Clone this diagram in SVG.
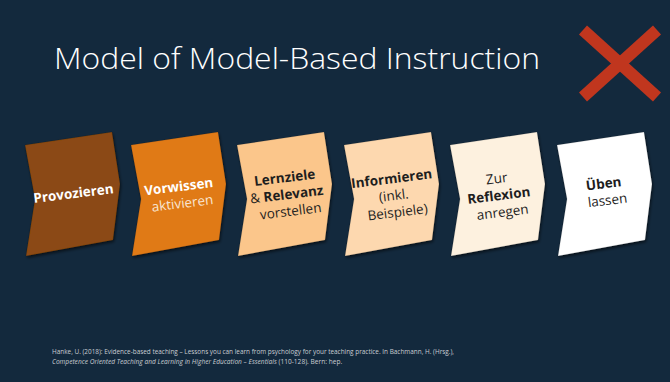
<svg xmlns="http://www.w3.org/2000/svg" width="670" height="382" viewBox="0 0 670 382">
  <defs>
    <style>
      .title { font-family: "Open Sans", "Liberation Sans", sans-serif; font-size: 30px; font-weight: 300; fill: #ffffff; }
      .lbl { font-family: "Open Sans", "Liberation Sans", sans-serif; font-size: 13.5px; text-anchor: middle; }
      .b { font-weight: 700; }
      .light { fill: #ffffff; }
      .dark { fill: #1e1e1e; }
      .ref { font-family: "Open Sans", "Liberation Sans", sans-serif; font-size: 6.6px; fill: #c9cdd2; }
      .step { stroke: rgba(0,0,0,0.15); stroke-width: 0.8; filter: url(#shadow); }
    </style>
    <filter id="shadow" x="-20%" y="-20%" width="140%" height="140%">
      <feDropShadow dx="1" dy="2" stdDeviation="1.6" flood-color="#000000" flood-opacity="0.55"/>
    </filter>
    <!-- tilted chevron outline, origin at the top of its right edge row -->
    <path id="chev" d="M0,13 L87,0 L95,52 L88,108 L1,124 L10,67 Z"/>
  </defs>

  <rect x="0" y="0" width="670" height="382" fill="#13293d"/>

  <text class="title" x="54" y="69" textLength="486" lengthAdjust="spacingAndGlyphs">Model of Model-Based Instruction</text>

  <g id="cross" stroke="#c0361e" stroke-width="12" stroke-linecap="butt">
    <line x1="583" y1="30" x2="657" y2="97"/>
    <line x1="657" y1="30" x2="583" y2="97"/>
  </g>

  <g id="step1">
    <use href="#chev" class="step" x="25" y="132" fill="#8b4a12"/>
    <text class="lbl light b" transform="translate(74,198) rotate(-7)">Provozieren</text>
  </g>

  <g id="step2">
    <use href="#chev" class="step" x="131" y="132" fill="#e07a18"/>
    <text class="lbl light" transform="translate(181,191) rotate(-7)">
      <tspan x="0" y="0" class="b">Vorwissen</tspan>
      <tspan x="0" y="17" fill="#f8e6d2">aktivieren</tspan>
    </text>
  </g>

  <g id="step3">
    <use href="#chev" class="step" x="237" y="132" fill="#fbc68b"/>
    <text class="lbl dark" transform="translate(287,182) rotate(-7)">
      <tspan x="0" y="0" class="b">Lernziele</tspan>
      <tspan x="0" y="17">&amp; <tspan class="b">Relevanz</tspan></tspan>
      <tspan x="0" y="34">vorstellen</tspan>
    </text>
  </g>

  <g id="step4">
    <use href="#chev" class="step" x="344" y="132" fill="#fdd8af"/>
    <text class="lbl dark" transform="translate(394,183) rotate(-7)">
      <tspan x="0" y="0" class="b">Informieren</tspan>
      <tspan x="0" y="17">(inkl.</tspan>
      <tspan x="0" y="34">Beispiele)</tspan>
    </text>
  </g>

  <g id="step5">
    <use href="#chev" class="step" x="450" y="132" fill="#fdf1df"/>
    <text class="lbl dark" transform="translate(499,183) rotate(-7)">
      <tspan x="0" y="0">Zur</tspan>
      <tspan x="0" y="17" class="b">Reflexion</tspan>
      <tspan x="0" y="34">anregen</tspan>
    </text>
  </g>

  <g id="step6">
    <use href="#chev" class="step" x="557" y="132" fill="#ffffff"/>
    <text class="lbl dark" transform="translate(606,188) rotate(-7)">
      <tspan x="0" y="0" class="b">Üben</tspan>
      <tspan x="0" y="17">lassen</tspan>
    </text>
  </g>

  <g id="reference">
    <text class="ref" x="52" y="354" textLength="402" lengthAdjust="spacingAndGlyphs">Hanke, U. (2018): Evidence-based teaching – Lessons you can learn from psychology for your teaching practice. In Bachmann, H. (Hrsg.),</text>
    <text class="ref" x="52" y="364" font-size="6.2"><tspan font-style="italic">Competence Oriented Teaching and Learning in Higher Education – Essentials</tspan> (110-128). Bern: hep.</text>
  </g>
</svg>
